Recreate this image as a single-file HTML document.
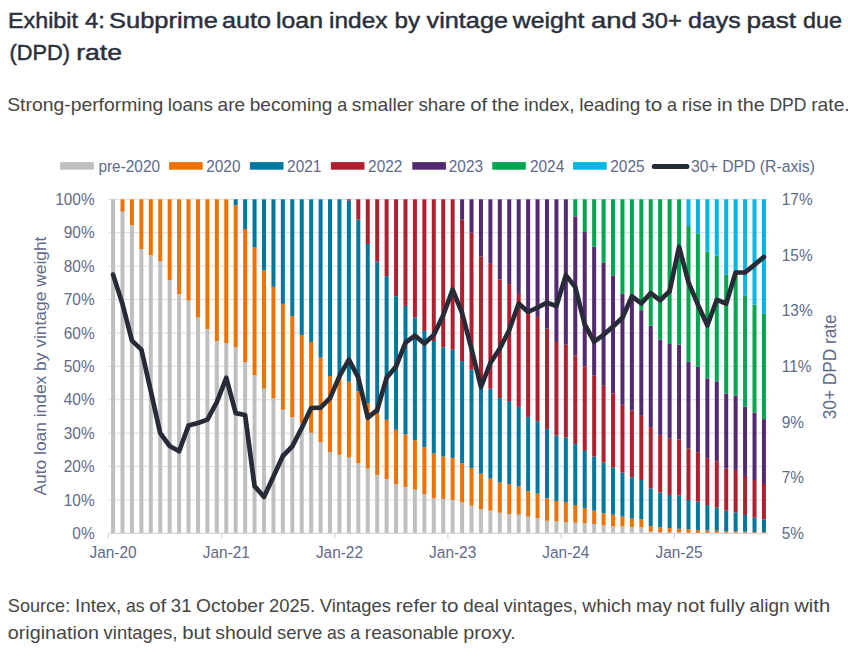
<!DOCTYPE html><html><head><meta charset="utf-8"><style>html,body{margin:0;padding:0;background:#fff;width:848px;height:663px;overflow:hidden}svg{display:block}</style></head><body>
<svg width="848" height="663" viewBox="0 0 848 663">
<rect width="848" height="663" fill="#fff"/>
<g font-family="Liberation Sans, sans-serif">
<text x="8.00" y="27.60" font-size="21.8" fill="#2B303C" stroke="#2B303C" stroke-width="0.45" textLength="70.00" lengthAdjust="spacingAndGlyphs">Exhibit</text>
<text x="85.00" y="27.60" font-size="21.8" fill="#2B303C" stroke="#2B303C" stroke-width="0.45" textLength="20.00" lengthAdjust="spacingAndGlyphs">4:</text>
<text x="109.00" y="27.60" font-size="21.8" fill="#2B303C" stroke="#2B303C" stroke-width="0.45" textLength="109.00" lengthAdjust="spacingAndGlyphs">Subprime</text>
<text x="222.00" y="27.60" font-size="21.8" fill="#2B303C" stroke="#2B303C" stroke-width="0.45" textLength="49.00" lengthAdjust="spacingAndGlyphs">auto</text>
<text x="276.00" y="27.60" font-size="21.8" fill="#2B303C" stroke="#2B303C" stroke-width="0.45" textLength="47.00" lengthAdjust="spacingAndGlyphs">loan</text>
<text x="329.00" y="27.60" font-size="21.8" fill="#2B303C" stroke="#2B303C" stroke-width="0.45" textLength="58.50" lengthAdjust="spacingAndGlyphs">index</text>
<text x="394.50" y="27.60" font-size="21.8" fill="#2B303C" stroke="#2B303C" stroke-width="0.45" textLength="25.50" lengthAdjust="spacingAndGlyphs">by</text>
<text x="426.50" y="27.60" font-size="21.8" fill="#2B303C" stroke="#2B303C" stroke-width="0.45" textLength="81.50" lengthAdjust="spacingAndGlyphs">vintage</text>
<text x="512.75" y="27.60" font-size="21.8" fill="#2B303C" stroke="#2B303C" stroke-width="0.45" textLength="71.75" lengthAdjust="spacingAndGlyphs">weight</text>
<text x="591.00" y="27.60" font-size="21.8" fill="#2B303C" stroke="#2B303C" stroke-width="0.45" textLength="45.75" lengthAdjust="spacingAndGlyphs">and</text>
<text x="641.50" y="27.60" font-size="21.8" fill="#2B303C" stroke="#2B303C" stroke-width="0.45" textLength="40.25" lengthAdjust="spacingAndGlyphs">30+</text>
<text x="688.00" y="27.60" font-size="21.8" fill="#2B303C" stroke="#2B303C" stroke-width="0.45" textLength="52.75" lengthAdjust="spacingAndGlyphs">days</text>
<text x="746.50" y="27.60" font-size="21.8" fill="#2B303C" stroke="#2B303C" stroke-width="0.45" textLength="49.50" lengthAdjust="spacingAndGlyphs">past</text>
<text x="803.00" y="27.60" font-size="21.8" fill="#2B303C" stroke="#2B303C" stroke-width="0.45" textLength="39.00" lengthAdjust="spacingAndGlyphs">due</text>
<text x="9.40" y="59.60" font-size="21.8" fill="#2B303C" stroke="#2B303C" stroke-width="0.45" textLength="60.60" lengthAdjust="spacingAndGlyphs">(DPD)</text>
<text x="76.20" y="59.60" font-size="21.8" fill="#2B303C" stroke="#2B303C" stroke-width="0.45" textLength="45.80" lengthAdjust="spacingAndGlyphs">rate</text>
<text x="7.20" y="110.70" font-size="17.80" fill="#454545" textLength="155.98" lengthAdjust="spacingAndGlyphs">Strong-performing</text>
<text x="167.86" y="110.70" font-size="17.80" fill="#454545" textLength="45.07" lengthAdjust="spacingAndGlyphs">loans</text>
<text x="217.60" y="110.70" font-size="17.80" fill="#454545" textLength="27.46" lengthAdjust="spacingAndGlyphs">are</text>
<text x="249.73" y="110.70" font-size="17.80" fill="#454545" textLength="82.78" lengthAdjust="spacingAndGlyphs">becoming</text>
<text x="337.19" y="110.70" font-size="17.80" fill="#454545" textLength="10.01" lengthAdjust="spacingAndGlyphs">a</text>
<text x="351.87" y="110.70" font-size="17.80" fill="#454545" textLength="61.89" lengthAdjust="spacingAndGlyphs">smaller</text>
<text x="418.44" y="110.70" font-size="17.80" fill="#454545" textLength="47.09" lengthAdjust="spacingAndGlyphs">share</text>
<text x="470.21" y="110.70" font-size="17.80" fill="#454545" textLength="16.97" lengthAdjust="spacingAndGlyphs">of</text>
<text x="491.86" y="110.70" font-size="17.80" fill="#454545" textLength="27.50" lengthAdjust="spacingAndGlyphs">the</text>
<text x="524.03" y="110.70" font-size="17.80" fill="#454545" textLength="50.55" lengthAdjust="spacingAndGlyphs">index,</text>
<text x="579.26" y="110.70" font-size="17.80" fill="#454545" textLength="61.15" lengthAdjust="spacingAndGlyphs">leading</text>
<text x="645.09" y="110.70" font-size="17.80" fill="#454545" textLength="17.23" lengthAdjust="spacingAndGlyphs">to</text>
<text x="666.99" y="110.70" font-size="17.80" fill="#454545" textLength="10.01" lengthAdjust="spacingAndGlyphs">a</text>
<text x="681.68" y="110.70" font-size="17.80" fill="#454545" textLength="30.59" lengthAdjust="spacingAndGlyphs">rise</text>
<text x="716.94" y="110.70" font-size="17.80" fill="#454545" textLength="15.60" lengthAdjust="spacingAndGlyphs">in</text>
<text x="737.22" y="110.70" font-size="17.80" fill="#454545" textLength="27.50" lengthAdjust="spacingAndGlyphs">the</text>
<text x="769.40" y="110.70" font-size="17.80" fill="#454545" textLength="37.08" lengthAdjust="spacingAndGlyphs">DPD</text>
<text x="811.15" y="110.70" font-size="17.80" fill="#454545" textLength="38.60" lengthAdjust="spacingAndGlyphs">rate.</text>
<text x="7.80" y="612.20" font-size="17.80" fill="#454545" textLength="62.43" lengthAdjust="spacingAndGlyphs">Source:</text>
<text x="74.90" y="612.20" font-size="17.80" fill="#454545" textLength="46.34" lengthAdjust="spacingAndGlyphs">Intex,</text>
<text x="125.92" y="612.20" font-size="17.80" fill="#454545" textLength="18.60" lengthAdjust="spacingAndGlyphs">as</text>
<text x="149.20" y="612.20" font-size="17.80" fill="#454545" textLength="16.97" lengthAdjust="spacingAndGlyphs">of</text>
<text x="170.85" y="612.20" font-size="17.80" fill="#454545" textLength="20.58" lengthAdjust="spacingAndGlyphs">31</text>
<text x="196.11" y="612.20" font-size="17.80" fill="#454545" textLength="68.29" lengthAdjust="spacingAndGlyphs">October</text>
<text x="269.07" y="612.20" font-size="17.80" fill="#454545" textLength="45.96" lengthAdjust="spacingAndGlyphs">2025.</text>
<text x="319.71" y="612.20" font-size="17.80" fill="#454545" textLength="71.31" lengthAdjust="spacingAndGlyphs">Vintages</text>
<text x="395.70" y="612.20" font-size="17.80" fill="#454545" textLength="40.99" lengthAdjust="spacingAndGlyphs">refer</text>
<text x="441.36" y="612.20" font-size="17.80" fill="#454545" textLength="17.23" lengthAdjust="spacingAndGlyphs">to</text>
<text x="463.27" y="612.20" font-size="17.80" fill="#454545" textLength="35.69" lengthAdjust="spacingAndGlyphs">deal</text>
<text x="503.63" y="612.20" font-size="17.80" fill="#454545" textLength="73.92" lengthAdjust="spacingAndGlyphs">vintages,</text>
<text x="582.24" y="612.20" font-size="17.80" fill="#454545" textLength="49.22" lengthAdjust="spacingAndGlyphs">which</text>
<text x="636.13" y="612.20" font-size="17.80" fill="#454545" textLength="35.79" lengthAdjust="spacingAndGlyphs">may</text>
<text x="676.59" y="612.20" font-size="17.80" fill="#454545" textLength="28.27" lengthAdjust="spacingAndGlyphs">not</text>
<text x="709.55" y="612.20" font-size="17.80" fill="#454545" textLength="35.29" lengthAdjust="spacingAndGlyphs">fully</text>
<text x="749.51" y="612.20" font-size="17.80" fill="#454545" textLength="40.03" lengthAdjust="spacingAndGlyphs">align</text>
<text x="794.21" y="612.20" font-size="17.80" fill="#454545" textLength="35.96" lengthAdjust="spacingAndGlyphs">with</text>
<text x="7.80" y="638.70" font-size="17.80" fill="#454545" textLength="91.07" lengthAdjust="spacingAndGlyphs">origination</text>
<text x="103.55" y="638.70" font-size="17.80" fill="#454545" textLength="73.92" lengthAdjust="spacingAndGlyphs">vintages,</text>
<text x="182.15" y="638.70" font-size="17.80" fill="#454545" textLength="28.43" lengthAdjust="spacingAndGlyphs">but</text>
<text x="215.26" y="638.70" font-size="17.80" fill="#454545" textLength="57.14" lengthAdjust="spacingAndGlyphs">should</text>
<text x="277.07" y="638.70" font-size="17.80" fill="#454545" textLength="45.15" lengthAdjust="spacingAndGlyphs">serve</text>
<text x="326.90" y="638.70" font-size="17.80" fill="#454545" textLength="18.60" lengthAdjust="spacingAndGlyphs">as</text>
<text x="350.17" y="638.70" font-size="17.80" fill="#454545" textLength="10.01" lengthAdjust="spacingAndGlyphs">a</text>
<text x="364.86" y="638.70" font-size="17.80" fill="#454545" textLength="93.66" lengthAdjust="spacingAndGlyphs">reasonable</text>
<text x="463.19" y="638.70" font-size="17.80" fill="#454545" textLength="52.51" lengthAdjust="spacingAndGlyphs">proxy.</text>
</g>
<g stroke="#DADCE2" stroke-width="1">
<line x1="108.3" y1="499.99" x2="768.7" y2="499.99"/>
<line x1="108.3" y1="466.58" x2="768.7" y2="466.58"/>
<line x1="108.3" y1="433.17" x2="768.7" y2="433.17"/>
<line x1="108.3" y1="399.76" x2="768.7" y2="399.76"/>
<line x1="108.3" y1="366.35" x2="768.7" y2="366.35"/>
<line x1="108.3" y1="332.94" x2="768.7" y2="332.94"/>
<line x1="108.3" y1="299.53" x2="768.7" y2="299.53"/>
<line x1="108.3" y1="266.12" x2="768.7" y2="266.12"/>
<line x1="108.3" y1="232.71" x2="768.7" y2="232.71"/>
<line x1="108.3" y1="199.30" x2="768.7" y2="199.30"/>
</g>
<rect x="111.07" y="199.30" width="4.00" height="334.10" fill="#BFBFBF"/>
<rect x="120.50" y="211.66" width="4.00" height="321.74" fill="#BFBFBF"/>
<rect x="120.50" y="199.30" width="4.00" height="12.36" fill="#EE7203"/>
<rect x="129.93" y="225.03" width="4.00" height="308.37" fill="#BFBFBF"/>
<rect x="129.93" y="199.30" width="4.00" height="25.73" fill="#EE7203"/>
<rect x="139.37" y="249.08" width="4.00" height="284.32" fill="#BFBFBF"/>
<rect x="139.37" y="199.30" width="4.00" height="49.78" fill="#EE7203"/>
<rect x="148.80" y="255.09" width="4.00" height="278.31" fill="#BFBFBF"/>
<rect x="148.80" y="199.30" width="4.00" height="55.79" fill="#EE7203"/>
<rect x="158.23" y="261.11" width="4.00" height="272.29" fill="#BFBFBF"/>
<rect x="158.23" y="199.30" width="4.00" height="61.81" fill="#EE7203"/>
<rect x="167.66" y="280.15" width="4.00" height="253.25" fill="#BFBFBF"/>
<rect x="167.66" y="199.30" width="4.00" height="80.85" fill="#EE7203"/>
<rect x="177.10" y="294.18" width="4.00" height="239.22" fill="#BFBFBF"/>
<rect x="177.10" y="199.30" width="4.00" height="94.88" fill="#EE7203"/>
<rect x="186.53" y="300.53" width="4.00" height="232.87" fill="#BFBFBF"/>
<rect x="186.53" y="199.30" width="4.00" height="101.23" fill="#EE7203"/>
<rect x="195.96" y="317.57" width="4.00" height="215.83" fill="#BFBFBF"/>
<rect x="195.96" y="199.30" width="4.00" height="118.27" fill="#EE7203"/>
<rect x="205.40" y="328.93" width="4.00" height="204.47" fill="#BFBFBF"/>
<rect x="205.40" y="199.30" width="4.00" height="129.63" fill="#EE7203"/>
<rect x="214.83" y="340.96" width="4.00" height="192.44" fill="#BFBFBF"/>
<rect x="214.83" y="199.30" width="4.00" height="141.66" fill="#EE7203"/>
<rect x="224.26" y="343.30" width="4.00" height="190.10" fill="#BFBFBF"/>
<rect x="224.26" y="199.30" width="4.00" height="144.00" fill="#EE7203"/>
<rect x="233.70" y="347.31" width="4.00" height="186.09" fill="#BFBFBF"/>
<rect x="233.70" y="205.31" width="4.00" height="141.99" fill="#EE7203"/>
<rect x="233.70" y="199.30" width="4.00" height="6.01" fill="#00789E"/>
<rect x="243.13" y="362.34" width="4.00" height="171.06" fill="#BFBFBF"/>
<rect x="243.13" y="229.03" width="4.00" height="133.31" fill="#EE7203"/>
<rect x="243.13" y="199.30" width="4.00" height="29.73" fill="#00789E"/>
<rect x="252.56" y="375.04" width="4.00" height="158.36" fill="#BFBFBF"/>
<rect x="252.56" y="247.41" width="4.00" height="127.63" fill="#EE7203"/>
<rect x="252.56" y="199.30" width="4.00" height="48.11" fill="#00789E"/>
<rect x="261.99" y="388.73" width="4.00" height="144.67" fill="#BFBFBF"/>
<rect x="261.99" y="270.46" width="4.00" height="118.27" fill="#EE7203"/>
<rect x="261.99" y="199.30" width="4.00" height="71.16" fill="#00789E"/>
<rect x="271.43" y="398.42" width="4.00" height="134.98" fill="#BFBFBF"/>
<rect x="271.43" y="286.83" width="4.00" height="111.59" fill="#EE7203"/>
<rect x="271.43" y="199.30" width="4.00" height="87.53" fill="#00789E"/>
<rect x="280.86" y="409.78" width="4.00" height="123.62" fill="#BFBFBF"/>
<rect x="280.86" y="303.87" width="4.00" height="105.91" fill="#EE7203"/>
<rect x="280.86" y="199.30" width="4.00" height="104.57" fill="#00789E"/>
<rect x="290.29" y="417.13" width="4.00" height="116.27" fill="#BFBFBF"/>
<rect x="290.29" y="316.24" width="4.00" height="100.90" fill="#EE7203"/>
<rect x="290.29" y="199.30" width="4.00" height="116.94" fill="#00789E"/>
<rect x="299.73" y="423.15" width="4.00" height="110.25" fill="#BFBFBF"/>
<rect x="299.73" y="334.94" width="4.00" height="88.20" fill="#EE7203"/>
<rect x="299.73" y="199.30" width="4.00" height="135.64" fill="#00789E"/>
<rect x="309.16" y="432.84" width="4.00" height="100.56" fill="#BFBFBF"/>
<rect x="309.16" y="341.96" width="4.00" height="90.88" fill="#EE7203"/>
<rect x="309.16" y="199.30" width="4.00" height="142.66" fill="#00789E"/>
<rect x="318.59" y="442.19" width="4.00" height="91.21" fill="#BFBFBF"/>
<rect x="318.59" y="357.66" width="4.00" height="84.53" fill="#EE7203"/>
<rect x="318.59" y="199.30" width="4.00" height="158.36" fill="#00789E"/>
<rect x="328.03" y="452.21" width="4.00" height="81.19" fill="#BFBFBF"/>
<rect x="328.03" y="376.04" width="4.00" height="76.17" fill="#EE7203"/>
<rect x="328.03" y="199.30" width="4.00" height="176.74" fill="#00789E"/>
<rect x="337.46" y="454.89" width="4.00" height="78.51" fill="#BFBFBF"/>
<rect x="337.46" y="378.04" width="4.00" height="76.84" fill="#EE7203"/>
<rect x="337.46" y="199.30" width="4.00" height="178.74" fill="#00789E"/>
<rect x="346.89" y="457.56" width="4.00" height="75.84" fill="#BFBFBF"/>
<rect x="346.89" y="381.72" width="4.00" height="75.84" fill="#EE7203"/>
<rect x="346.89" y="200.64" width="4.00" height="181.08" fill="#00789E"/>
<rect x="346.89" y="199.30" width="4.00" height="1.34" fill="#B01F2E"/>
<rect x="356.32" y="463.24" width="4.00" height="70.16" fill="#BFBFBF"/>
<rect x="356.32" y="391.41" width="4.00" height="71.83" fill="#EE7203"/>
<rect x="356.32" y="219.68" width="4.00" height="171.73" fill="#00789E"/>
<rect x="356.32" y="199.30" width="4.00" height="20.38" fill="#B01F2E"/>
<rect x="365.76" y="468.58" width="4.00" height="64.82" fill="#BFBFBF"/>
<rect x="365.76" y="403.10" width="4.00" height="65.48" fill="#EE7203"/>
<rect x="365.76" y="244.07" width="4.00" height="159.03" fill="#00789E"/>
<rect x="365.76" y="199.30" width="4.00" height="44.77" fill="#B01F2E"/>
<rect x="375.19" y="474.93" width="4.00" height="58.47" fill="#BFBFBF"/>
<rect x="375.19" y="413.12" width="4.00" height="61.81" fill="#EE7203"/>
<rect x="375.19" y="261.78" width="4.00" height="151.35" fill="#00789E"/>
<rect x="375.19" y="199.30" width="4.00" height="62.48" fill="#B01F2E"/>
<rect x="384.62" y="478.94" width="4.00" height="54.46" fill="#BFBFBF"/>
<rect x="384.62" y="419.81" width="4.00" height="59.14" fill="#EE7203"/>
<rect x="384.62" y="276.14" width="4.00" height="143.66" fill="#00789E"/>
<rect x="384.62" y="199.30" width="4.00" height="76.84" fill="#B01F2E"/>
<rect x="394.06" y="484.29" width="4.00" height="49.11" fill="#BFBFBF"/>
<rect x="394.06" y="429.83" width="4.00" height="54.46" fill="#EE7203"/>
<rect x="394.06" y="296.19" width="4.00" height="133.64" fill="#00789E"/>
<rect x="394.06" y="199.30" width="4.00" height="96.89" fill="#B01F2E"/>
<rect x="403.49" y="486.96" width="4.00" height="46.44" fill="#BFBFBF"/>
<rect x="403.49" y="434.51" width="4.00" height="52.45" fill="#EE7203"/>
<rect x="403.49" y="305.88" width="4.00" height="128.63" fill="#00789E"/>
<rect x="403.49" y="199.30" width="4.00" height="106.58" fill="#B01F2E"/>
<rect x="412.92" y="489.63" width="4.00" height="43.77" fill="#BFBFBF"/>
<rect x="412.92" y="440.19" width="4.00" height="49.45" fill="#EE7203"/>
<rect x="412.92" y="317.57" width="4.00" height="122.61" fill="#00789E"/>
<rect x="412.92" y="199.30" width="4.00" height="118.27" fill="#B01F2E"/>
<rect x="422.36" y="494.31" width="4.00" height="39.09" fill="#BFBFBF"/>
<rect x="422.36" y="447.20" width="4.00" height="47.11" fill="#EE7203"/>
<rect x="422.36" y="330.94" width="4.00" height="116.27" fill="#00789E"/>
<rect x="422.36" y="199.30" width="4.00" height="131.64" fill="#B01F2E"/>
<rect x="431.79" y="498.32" width="4.00" height="35.08" fill="#BFBFBF"/>
<rect x="431.79" y="453.55" width="4.00" height="44.77" fill="#EE7203"/>
<rect x="431.79" y="340.96" width="4.00" height="112.59" fill="#00789E"/>
<rect x="431.79" y="199.30" width="4.00" height="141.66" fill="#B01F2E"/>
<rect x="441.22" y="498.99" width="4.00" height="34.41" fill="#BFBFBF"/>
<rect x="441.22" y="456.56" width="4.00" height="42.43" fill="#EE7203"/>
<rect x="441.22" y="347.31" width="4.00" height="109.25" fill="#00789E"/>
<rect x="441.22" y="199.30" width="4.00" height="148.01" fill="#B01F2E"/>
<rect x="450.65" y="499.99" width="4.00" height="33.41" fill="#BFBFBF"/>
<rect x="450.65" y="457.89" width="4.00" height="42.10" fill="#EE7203"/>
<rect x="450.65" y="349.64" width="4.00" height="108.25" fill="#00789E"/>
<rect x="450.65" y="199.30" width="4.00" height="150.35" fill="#B01F2E"/>
<rect x="460.09" y="502.33" width="4.00" height="31.07" fill="#BFBFBF"/>
<rect x="460.09" y="463.24" width="4.00" height="39.09" fill="#EE7203"/>
<rect x="460.09" y="361.00" width="4.00" height="102.23" fill="#00789E"/>
<rect x="460.09" y="219.68" width="4.00" height="141.32" fill="#B01F2E"/>
<rect x="460.09" y="199.30" width="4.00" height="20.38" fill="#532A6F"/>
<rect x="469.52" y="505.67" width="4.00" height="27.73" fill="#BFBFBF"/>
<rect x="469.52" y="467.92" width="4.00" height="37.75" fill="#EE7203"/>
<rect x="469.52" y="369.69" width="4.00" height="98.23" fill="#00789E"/>
<rect x="469.52" y="232.71" width="4.00" height="136.98" fill="#B01F2E"/>
<rect x="469.52" y="199.30" width="4.00" height="33.41" fill="#532A6F"/>
<rect x="478.95" y="509.01" width="4.00" height="24.39" fill="#BFBFBF"/>
<rect x="478.95" y="473.60" width="4.00" height="35.41" fill="#EE7203"/>
<rect x="478.95" y="379.71" width="4.00" height="93.88" fill="#00789E"/>
<rect x="478.95" y="256.43" width="4.00" height="123.28" fill="#B01F2E"/>
<rect x="478.95" y="199.30" width="4.00" height="57.13" fill="#532A6F"/>
<rect x="488.39" y="510.68" width="4.00" height="22.72" fill="#BFBFBF"/>
<rect x="488.39" y="478.61" width="4.00" height="32.07" fill="#EE7203"/>
<rect x="488.39" y="388.73" width="4.00" height="89.87" fill="#00789E"/>
<rect x="488.39" y="263.78" width="4.00" height="124.95" fill="#B01F2E"/>
<rect x="488.39" y="199.30" width="4.00" height="64.48" fill="#532A6F"/>
<rect x="497.82" y="512.69" width="4.00" height="20.71" fill="#BFBFBF"/>
<rect x="497.82" y="482.62" width="4.00" height="30.07" fill="#EE7203"/>
<rect x="497.82" y="398.09" width="4.00" height="84.53" fill="#00789E"/>
<rect x="497.82" y="279.48" width="4.00" height="118.61" fill="#B01F2E"/>
<rect x="497.82" y="199.30" width="4.00" height="80.18" fill="#532A6F"/>
<rect x="507.25" y="514.02" width="4.00" height="19.38" fill="#BFBFBF"/>
<rect x="507.25" y="484.29" width="4.00" height="29.73" fill="#EE7203"/>
<rect x="507.25" y="401.10" width="4.00" height="83.19" fill="#00789E"/>
<rect x="507.25" y="284.16" width="4.00" height="116.94" fill="#B01F2E"/>
<rect x="507.25" y="199.30" width="4.00" height="84.86" fill="#532A6F"/>
<rect x="516.69" y="514.69" width="4.00" height="18.71" fill="#BFBFBF"/>
<rect x="516.69" y="486.29" width="4.00" height="28.40" fill="#EE7203"/>
<rect x="516.69" y="406.78" width="4.00" height="79.52" fill="#00789E"/>
<rect x="516.69" y="293.85" width="4.00" height="112.93" fill="#B01F2E"/>
<rect x="516.69" y="199.30" width="4.00" height="94.55" fill="#532A6F"/>
<rect x="526.12" y="516.69" width="4.00" height="16.71" fill="#BFBFBF"/>
<rect x="526.12" y="491.30" width="4.00" height="25.39" fill="#EE7203"/>
<rect x="526.12" y="416.80" width="4.00" height="74.50" fill="#00789E"/>
<rect x="526.12" y="312.23" width="4.00" height="104.57" fill="#B01F2E"/>
<rect x="526.12" y="199.30" width="4.00" height="112.93" fill="#532A6F"/>
<rect x="535.55" y="518.03" width="4.00" height="15.37" fill="#BFBFBF"/>
<rect x="535.55" y="493.64" width="4.00" height="24.39" fill="#EE7203"/>
<rect x="535.55" y="421.14" width="4.00" height="72.50" fill="#00789E"/>
<rect x="535.55" y="316.90" width="4.00" height="104.24" fill="#B01F2E"/>
<rect x="535.55" y="199.30" width="4.00" height="117.60" fill="#532A6F"/>
<rect x="544.98" y="520.70" width="4.00" height="12.70" fill="#BFBFBF"/>
<rect x="544.98" y="498.32" width="4.00" height="22.38" fill="#EE7203"/>
<rect x="544.98" y="428.83" width="4.00" height="69.49" fill="#00789E"/>
<rect x="544.98" y="328.60" width="4.00" height="100.23" fill="#B01F2E"/>
<rect x="544.98" y="199.30" width="4.00" height="129.30" fill="#532A6F"/>
<rect x="554.42" y="521.37" width="4.00" height="12.03" fill="#BFBFBF"/>
<rect x="554.42" y="500.99" width="4.00" height="20.38" fill="#EE7203"/>
<rect x="554.42" y="435.51" width="4.00" height="65.48" fill="#00789E"/>
<rect x="554.42" y="341.96" width="4.00" height="93.55" fill="#B01F2E"/>
<rect x="554.42" y="199.30" width="4.00" height="142.66" fill="#532A6F"/>
<rect x="563.85" y="522.37" width="4.00" height="11.03" fill="#BFBFBF"/>
<rect x="563.85" y="502.33" width="4.00" height="20.05" fill="#EE7203"/>
<rect x="563.85" y="437.51" width="4.00" height="64.82" fill="#00789E"/>
<rect x="563.85" y="344.63" width="4.00" height="92.88" fill="#B01F2E"/>
<rect x="563.85" y="199.30" width="4.00" height="145.33" fill="#532A6F"/>
<rect x="573.28" y="522.71" width="4.00" height="10.69" fill="#BFBFBF"/>
<rect x="573.28" y="505.00" width="4.00" height="17.71" fill="#EE7203"/>
<rect x="573.28" y="444.20" width="4.00" height="60.81" fill="#00789E"/>
<rect x="573.28" y="355.32" width="4.00" height="88.87" fill="#B01F2E"/>
<rect x="573.28" y="216.34" width="4.00" height="138.99" fill="#532A6F"/>
<rect x="573.28" y="199.30" width="4.00" height="17.04" fill="#00A650"/>
<rect x="582.72" y="523.38" width="4.00" height="10.02" fill="#BFBFBF"/>
<rect x="582.72" y="508.34" width="4.00" height="15.03" fill="#EE7203"/>
<rect x="582.72" y="450.88" width="4.00" height="57.47" fill="#00789E"/>
<rect x="582.72" y="366.35" width="4.00" height="84.53" fill="#B01F2E"/>
<rect x="582.72" y="232.04" width="4.00" height="134.31" fill="#532A6F"/>
<rect x="582.72" y="199.30" width="4.00" height="32.74" fill="#00A650"/>
<rect x="592.15" y="524.05" width="4.00" height="9.35" fill="#BFBFBF"/>
<rect x="592.15" y="510.68" width="4.00" height="13.36" fill="#EE7203"/>
<rect x="592.15" y="456.56" width="4.00" height="54.12" fill="#00789E"/>
<rect x="592.15" y="375.70" width="4.00" height="80.85" fill="#B01F2E"/>
<rect x="592.15" y="246.74" width="4.00" height="128.96" fill="#532A6F"/>
<rect x="592.15" y="199.30" width="4.00" height="47.44" fill="#00A650"/>
<rect x="601.58" y="525.38" width="4.00" height="8.02" fill="#BFBFBF"/>
<rect x="601.58" y="513.35" width="4.00" height="12.03" fill="#EE7203"/>
<rect x="601.58" y="462.57" width="4.00" height="50.78" fill="#00789E"/>
<rect x="601.58" y="385.73" width="4.00" height="76.84" fill="#B01F2E"/>
<rect x="601.58" y="262.44" width="4.00" height="123.28" fill="#532A6F"/>
<rect x="601.58" y="199.30" width="4.00" height="63.14" fill="#00A650"/>
<rect x="611.02" y="526.05" width="4.00" height="7.35" fill="#BFBFBF"/>
<rect x="611.02" y="514.69" width="4.00" height="11.36" fill="#EE7203"/>
<rect x="611.02" y="467.25" width="4.00" height="47.44" fill="#00789E"/>
<rect x="611.02" y="393.41" width="4.00" height="73.84" fill="#B01F2E"/>
<rect x="611.02" y="275.47" width="4.00" height="117.94" fill="#532A6F"/>
<rect x="611.02" y="199.30" width="4.00" height="76.17" fill="#00A650"/>
<rect x="620.45" y="526.38" width="4.00" height="7.02" fill="#BFBFBF"/>
<rect x="620.45" y="516.69" width="4.00" height="9.69" fill="#EE7203"/>
<rect x="620.45" y="472.59" width="4.00" height="44.10" fill="#00789E"/>
<rect x="620.45" y="404.77" width="4.00" height="67.82" fill="#B01F2E"/>
<rect x="620.45" y="293.85" width="4.00" height="110.92" fill="#532A6F"/>
<rect x="620.45" y="199.30" width="4.00" height="94.55" fill="#00A650"/>
<rect x="629.88" y="527.05" width="4.00" height="6.35" fill="#BFBFBF"/>
<rect x="629.88" y="518.70" width="4.00" height="8.35" fill="#EE7203"/>
<rect x="629.88" y="477.27" width="4.00" height="41.43" fill="#00789E"/>
<rect x="629.88" y="410.45" width="4.00" height="66.82" fill="#B01F2E"/>
<rect x="629.88" y="299.53" width="4.00" height="110.92" fill="#532A6F"/>
<rect x="629.88" y="199.30" width="4.00" height="100.23" fill="#00A650"/>
<rect x="639.31" y="527.39" width="4.00" height="6.01" fill="#BFBFBF"/>
<rect x="639.31" y="519.37" width="4.00" height="8.02" fill="#EE7203"/>
<rect x="639.31" y="479.94" width="4.00" height="39.42" fill="#00789E"/>
<rect x="639.31" y="415.80" width="4.00" height="64.15" fill="#B01F2E"/>
<rect x="639.31" y="310.22" width="4.00" height="105.58" fill="#532A6F"/>
<rect x="639.31" y="199.30" width="4.00" height="110.92" fill="#00A650"/>
<rect x="648.75" y="531.73" width="4.00" height="1.67" fill="#BFBFBF"/>
<rect x="648.75" y="526.05" width="4.00" height="5.68" fill="#EE7203"/>
<rect x="648.75" y="488.30" width="4.00" height="37.75" fill="#00789E"/>
<rect x="648.75" y="427.16" width="4.00" height="61.14" fill="#B01F2E"/>
<rect x="648.75" y="325.59" width="4.00" height="101.57" fill="#532A6F"/>
<rect x="648.75" y="199.30" width="4.00" height="126.29" fill="#00A650"/>
<rect x="658.18" y="532.73" width="4.00" height="0.67" fill="#BFBFBF"/>
<rect x="658.18" y="527.39" width="4.00" height="5.35" fill="#EE7203"/>
<rect x="658.18" y="492.64" width="4.00" height="34.75" fill="#00789E"/>
<rect x="658.18" y="434.84" width="4.00" height="57.80" fill="#B01F2E"/>
<rect x="658.18" y="339.62" width="4.00" height="95.22" fill="#532A6F"/>
<rect x="658.18" y="199.30" width="4.00" height="140.32" fill="#00A650"/>
<rect x="667.61" y="532.73" width="4.00" height="0.67" fill="#BFBFBF"/>
<rect x="667.61" y="528.05" width="4.00" height="4.68" fill="#EE7203"/>
<rect x="667.61" y="494.98" width="4.00" height="33.08" fill="#00789E"/>
<rect x="667.61" y="438.52" width="4.00" height="56.46" fill="#B01F2E"/>
<rect x="667.61" y="343.97" width="4.00" height="94.55" fill="#532A6F"/>
<rect x="667.61" y="199.30" width="4.00" height="144.67" fill="#00A650"/>
<rect x="677.05" y="532.73" width="4.00" height="0.67" fill="#BFBFBF"/>
<rect x="677.05" y="528.72" width="4.00" height="4.01" fill="#EE7203"/>
<rect x="677.05" y="495.65" width="4.00" height="33.08" fill="#00789E"/>
<rect x="677.05" y="439.52" width="4.00" height="56.13" fill="#B01F2E"/>
<rect x="677.05" y="344.63" width="4.00" height="94.88" fill="#532A6F"/>
<rect x="677.05" y="199.30" width="4.00" height="145.33" fill="#00A650"/>
<rect x="686.48" y="533.07" width="4.00" height="0.33" fill="#BFBFBF"/>
<rect x="686.48" y="529.06" width="4.00" height="4.01" fill="#EE7203"/>
<rect x="686.48" y="499.99" width="4.00" height="29.07" fill="#00789E"/>
<rect x="686.48" y="448.54" width="4.00" height="51.45" fill="#B01F2E"/>
<rect x="686.48" y="361.67" width="4.00" height="86.87" fill="#532A6F"/>
<rect x="686.48" y="226.03" width="4.00" height="135.64" fill="#00A650"/>
<rect x="686.48" y="199.30" width="4.00" height="26.73" fill="#00B7E3"/>
<rect x="695.91" y="533.07" width="4.00" height="0.33" fill="#BFBFBF"/>
<rect x="695.91" y="530.06" width="4.00" height="3.01" fill="#EE7203"/>
<rect x="695.91" y="501.66" width="4.00" height="28.40" fill="#00789E"/>
<rect x="695.91" y="452.21" width="4.00" height="49.45" fill="#B01F2E"/>
<rect x="695.91" y="366.68" width="4.00" height="85.53" fill="#532A6F"/>
<rect x="695.91" y="233.38" width="4.00" height="133.31" fill="#00A650"/>
<rect x="695.91" y="199.30" width="4.00" height="34.08" fill="#00B7E3"/>
<rect x="705.35" y="533.07" width="4.00" height="0.33" fill="#BFBFBF"/>
<rect x="705.35" y="530.39" width="4.00" height="2.67" fill="#EE7203"/>
<rect x="705.35" y="505.00" width="4.00" height="25.39" fill="#00789E"/>
<rect x="705.35" y="458.23" width="4.00" height="46.77" fill="#B01F2E"/>
<rect x="705.35" y="378.38" width="4.00" height="79.85" fill="#532A6F"/>
<rect x="705.35" y="251.75" width="4.00" height="126.62" fill="#00A650"/>
<rect x="705.35" y="199.30" width="4.00" height="52.45" fill="#00B7E3"/>
<rect x="714.78" y="530.73" width="4.00" height="2.67" fill="#EE7203"/>
<rect x="714.78" y="507.67" width="4.00" height="23.05" fill="#00789E"/>
<rect x="714.78" y="461.23" width="4.00" height="46.44" fill="#B01F2E"/>
<rect x="714.78" y="381.38" width="4.00" height="79.85" fill="#532A6F"/>
<rect x="714.78" y="255.76" width="4.00" height="125.62" fill="#00A650"/>
<rect x="714.78" y="199.30" width="4.00" height="56.46" fill="#00B7E3"/>
<rect x="724.21" y="531.40" width="4.00" height="2.00" fill="#EE7203"/>
<rect x="724.21" y="510.68" width="4.00" height="20.71" fill="#00789E"/>
<rect x="724.21" y="468.58" width="4.00" height="42.10" fill="#B01F2E"/>
<rect x="724.21" y="393.41" width="4.00" height="75.17" fill="#532A6F"/>
<rect x="724.21" y="274.81" width="4.00" height="118.61" fill="#00A650"/>
<rect x="724.21" y="199.30" width="4.00" height="75.51" fill="#00B7E3"/>
<rect x="733.64" y="531.40" width="4.00" height="2.00" fill="#EE7203"/>
<rect x="733.64" y="512.35" width="4.00" height="19.04" fill="#00789E"/>
<rect x="733.64" y="469.92" width="4.00" height="42.43" fill="#B01F2E"/>
<rect x="733.64" y="395.75" width="4.00" height="74.17" fill="#532A6F"/>
<rect x="733.64" y="273.47" width="4.00" height="122.28" fill="#00A650"/>
<rect x="733.64" y="199.30" width="4.00" height="74.17" fill="#00B7E3"/>
<rect x="743.08" y="531.73" width="4.00" height="1.67" fill="#EE7203"/>
<rect x="743.08" y="515.02" width="4.00" height="16.71" fill="#00789E"/>
<rect x="743.08" y="475.93" width="4.00" height="39.09" fill="#B01F2E"/>
<rect x="743.08" y="406.78" width="4.00" height="69.16" fill="#532A6F"/>
<rect x="743.08" y="295.85" width="4.00" height="110.92" fill="#00A650"/>
<rect x="743.08" y="199.30" width="4.00" height="96.55" fill="#00B7E3"/>
<rect x="752.51" y="532.06" width="4.00" height="1.34" fill="#EE7203"/>
<rect x="752.51" y="517.70" width="4.00" height="14.37" fill="#00789E"/>
<rect x="752.51" y="479.94" width="4.00" height="37.75" fill="#B01F2E"/>
<rect x="752.51" y="412.46" width="4.00" height="67.49" fill="#532A6F"/>
<rect x="752.51" y="304.54" width="4.00" height="107.91" fill="#00A650"/>
<rect x="752.51" y="199.30" width="4.00" height="105.24" fill="#00B7E3"/>
<rect x="761.94" y="532.06" width="4.00" height="1.34" fill="#EE7203"/>
<rect x="761.94" y="519.37" width="4.00" height="12.70" fill="#00789E"/>
<rect x="761.94" y="483.95" width="4.00" height="35.41" fill="#B01F2E"/>
<rect x="761.94" y="419.14" width="4.00" height="64.82" fill="#532A6F"/>
<rect x="761.94" y="313.90" width="4.00" height="105.24" fill="#00A650"/>
<rect x="761.94" y="199.30" width="4.00" height="114.60" fill="#00B7E3"/>
<g stroke="#D3D6DE" stroke-width="1.2">
<line x1="108.3" y1="533.40" x2="768.7" y2="533.40"/>
<line x1="108.35" y1="533.40" x2="108.35" y2="538.40"/>
<line x1="221.55" y1="533.40" x2="221.55" y2="538.40"/>
<line x1="334.74" y1="533.40" x2="334.74" y2="538.40"/>
<line x1="447.94" y1="533.40" x2="447.94" y2="538.40"/>
<line x1="561.13" y1="533.40" x2="561.13" y2="538.40"/>
<line x1="674.33" y1="533.40" x2="674.33" y2="538.40"/>
</g>
<polyline points="113.07,274.60 122.50,304.00 131.93,340.60 141.37,349.60 150.80,391.00 160.23,433.20 169.66,446.00 179.10,451.30 188.53,425.60 197.96,423.00 207.40,419.60 216.83,402.20 226.26,377.80 235.70,413.10 245.13,415.00 254.56,486.10 263.99,497.00 273.43,476.50 282.86,456.00 292.29,446.30 301.73,428.00 311.16,408.00 320.59,407.60 330.03,398.10 339.46,376.20 348.89,359.60 358.32,377.70 367.76,417.70 377.19,410.10 386.62,377.70 396.06,366.40 405.49,342.70 414.92,335.60 424.36,343.50 433.79,334.90 443.22,315.20 452.65,289.60 462.09,313.00 471.52,349.00 480.95,387.00 490.39,363.00 499.82,348.50 509.25,330.00 518.69,303.50 528.12,312.00 537.55,307.50 546.98,302.70 556.42,306.00 565.85,275.10 575.28,287.10 584.72,324.50 594.15,341.60 603.58,334.80 613.02,326.50 622.45,317.70 631.88,296.40 641.31,303.30 650.75,293.10 660.18,300.30 669.61,291.30 679.05,246.70 688.48,282.30 697.91,304.70 707.35,325.40 716.78,299.80 726.21,303.60 735.64,272.50 745.08,272.30 754.51,264.80 763.94,256.90" fill="none" stroke="#262B37" stroke-width="4.7" stroke-linejoin="round" stroke-linecap="round"/>
<g font-family="Liberation Sans, sans-serif" font-size="15.4" fill="#5E6A89">
<text transform="translate(94.6,539.00) scale(1,1.12)" text-anchor="end">0%</text>
<text transform="translate(94.6,505.59) scale(1,1.12)" text-anchor="end">10%</text>
<text transform="translate(94.6,472.18) scale(1,1.12)" text-anchor="end">20%</text>
<text transform="translate(94.6,438.77) scale(1,1.12)" text-anchor="end">30%</text>
<text transform="translate(94.6,405.36) scale(1,1.12)" text-anchor="end">40%</text>
<text transform="translate(94.6,371.95) scale(1,1.12)" text-anchor="end">50%</text>
<text transform="translate(94.6,338.54) scale(1,1.12)" text-anchor="end">60%</text>
<text transform="translate(94.6,305.13) scale(1,1.12)" text-anchor="end">70%</text>
<text transform="translate(94.6,271.72) scale(1,1.12)" text-anchor="end">80%</text>
<text transform="translate(94.6,238.31) scale(1,1.12)" text-anchor="end">90%</text>
<text transform="translate(94.6,204.90) scale(1,1.12)" text-anchor="end">100%</text>
<text transform="translate(781.8,539.10) scale(1,1.12)">5%</text>
<text transform="translate(781.8,483.42) scale(1,1.12)">7%</text>
<text transform="translate(781.8,427.73) scale(1,1.12)">9%</text>
<text transform="translate(781.8,372.05) scale(1,1.12)">11%</text>
<text transform="translate(781.8,316.37) scale(1,1.12)">13%</text>
<text transform="translate(781.8,260.68) scale(1,1.12)">15%</text>
<text transform="translate(781.8,205.00) scale(1,1.12)">17%</text>
<text transform="translate(113.07,557.6) scale(1,1.12)" text-anchor="middle">Jan-20</text>
<text transform="translate(226.26,557.6) scale(1,1.12)" text-anchor="middle">Jan-21</text>
<text transform="translate(339.46,557.6) scale(1,1.12)" text-anchor="middle">Jan-22</text>
<text transform="translate(452.65,557.6) scale(1,1.12)" text-anchor="middle">Jan-23</text>
<text transform="translate(565.85,557.6) scale(1,1.12)" text-anchor="middle">Jan-24</text>
<text transform="translate(679.05,557.6) scale(1,1.12)" text-anchor="middle">Jan-25</text>
<rect x="60.2" y="162.1" width="33.6" height="7.6" fill="#BFBFBF"/>
<text transform="translate(98.4,171.5) scale(1,1.12)">pre-2020</text>
<rect x="169.1" y="162.1" width="33.6" height="7.6" fill="#EE7203"/>
<text transform="translate(206.2,171.5) scale(1,1.12)">2020</text>
<rect x="249.9" y="162.1" width="33.6" height="7.6" fill="#00789E"/>
<text transform="translate(287.1,171.5) scale(1,1.12)">2021</text>
<rect x="330.9" y="162.1" width="33.6" height="7.6" fill="#B01F2E"/>
<text transform="translate(368.1,171.5) scale(1,1.12)">2022</text>
<rect x="412.3" y="162.1" width="33.6" height="7.6" fill="#532A6F"/>
<text transform="translate(448.8,171.5) scale(1,1.12)">2023</text>
<rect x="492.2" y="162.1" width="33.6" height="7.6" fill="#00A650"/>
<text transform="translate(530.0,171.5) scale(1,1.12)">2024</text>
<rect x="573.1" y="162.1" width="33.6" height="7.6" fill="#00B7E3"/>
<text transform="translate(610.3,171.5) scale(1,1.12)">2025</text>
<line x1="654.2" y1="166.4" x2="686.9" y2="166.4" stroke="#262B37" stroke-width="5" stroke-linecap="round"/>
<text transform="translate(691,171.5) scale(1,1.12)" textLength="124" lengthAdjust="spacingAndGlyphs">30+ DPD (R-axis)</text>
</g>
<text font-family="Liberation Sans, sans-serif" font-size="17" fill="#5E6A89" transform="translate(45.6,366.05) rotate(-90)" text-anchor="middle" textLength="259" lengthAdjust="spacingAndGlyphs" x="-129.5" style="text-anchor:start">Auto loan index by vintage weight</text>
<text font-family="Liberation Sans, sans-serif" font-size="18" fill="#5E6A89" transform="translate(835.6,366.8) rotate(-90)" textLength="105" lengthAdjust="spacingAndGlyphs" x="-52.5">30+ DPD rate</text>
</svg></body></html>
